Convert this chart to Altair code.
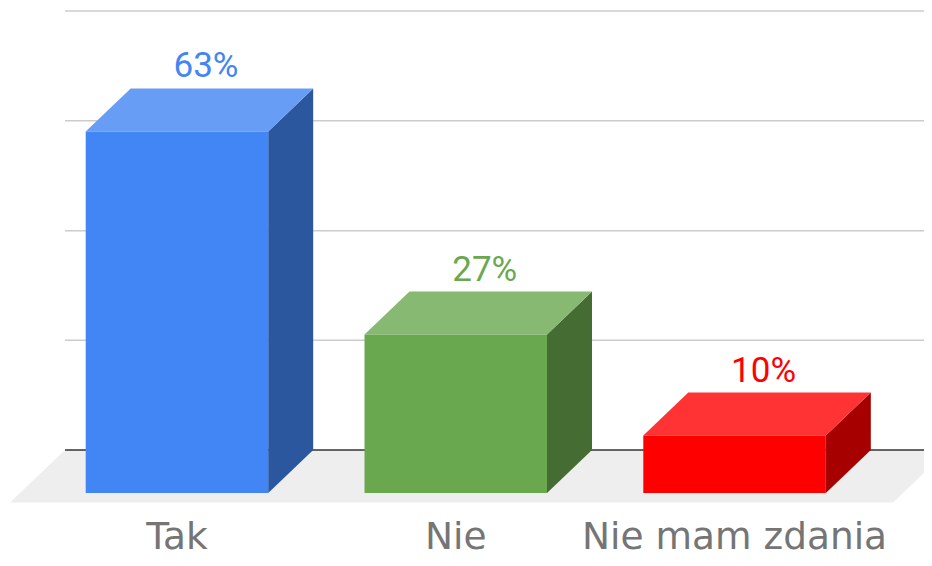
import altair as alt
import pandas as pd

# ---------------- data ----------------
categories = ["Tak", "Nie", "Nie mam zdania"]
values = [63, 27.6, 10]              # percent
value_labels = ["63%", "27%", "10%"]
grid_levels = [0, 19.1, 38.2, 57.35, 76.5]   # back-wall gridlines (percent units)

# ---------------- style ----------------
front_colors = ["#4285F4", "#6AA84F", "#FF0000"]
top_colors = ["#689DF6", "#88B972", "#FF3333"]
side_colors = ["#2B579F", "#456D33", "#A60000"]
label_gray = "#757575"

# geometry (x in category-slot units, y in percent units)
BAR_W = 0.6546       # front face width
DEPTH_X = 0.1614     # oblique depth offset (x)
DEPTH_Y = 7.49       # oblique depth offset (y)
FLOOR_LEFT, FLOOR_RIGHT, FLOOR_FRONT = -0.5988, 2.5683, -1.655
FLOOR_DX = 0.1973
GRID_LEFT = FLOOR_LEFT + FLOOR_DX
X_DOM = [-0.606, 2.6795]
Y_DOM = [-11.324, 84.495]

xs = alt.Scale(domain=X_DOM, nice=False, zero=False)
ys = alt.Scale(domain=Y_DOM, nice=False, zero=False)

# ---------------- tables ----------------
front = pd.DataFrame({
    "cat": categories,
    "x": [i - BAR_W / 2 for i in range(3)],
    "x2": [i + BAR_W / 2 for i in range(3)],
    "y": values,
    "y2": [0] * 3,
    "fill": front_colors,
})

side_rows, top_rows = [], []
for i, (c, v) in enumerate(zip(categories, values)):
    side_rows.append({"cat": c, "x": i + BAR_W / 2, "y": v, "y2": 0, "fill": side_colors[i]})
    side_rows.append({"cat": c, "x": i + BAR_W / 2 + DEPTH_X, "y": v + DEPTH_Y, "y2": DEPTH_Y, "fill": side_colors[i]})
    top_rows.append({"cat": c, "y": v, "x": i - BAR_W / 2, "x2": i + BAR_W / 2, "fill": top_colors[i]})
    top_rows.append({"cat": c, "y": v + DEPTH_Y, "x": i - BAR_W / 2 + DEPTH_X,
                     "x2": i + BAR_W / 2 + DEPTH_X, "fill": top_colors[i]})
side = pd.DataFrame(side_rows)
top = pd.DataFrame(top_rows)

floor = pd.DataFrame({
    "y": [FLOOR_FRONT, DEPTH_Y],
    "x": [FLOOR_LEFT, FLOOR_LEFT + FLOOR_DX],
    "x2": [FLOOR_RIGHT, FLOOR_RIGHT + FLOOR_DX],
})

grid = pd.DataFrame({
    "y": [g + DEPTH_Y for g in grid_levels],
    "x": [GRID_LEFT] * len(grid_levels),
    "x2": [X_DOM[1] + 0.1] * len(grid_levels),
    "base": [g == 0 for g in grid_levels],
})

vlabels = pd.DataFrame({
    "x": [i + 0.104 for i in range(3)],
    "y": [v + DEPTH_Y for v in values],
    "text": value_labels,
    "fill": front_colors,
})

clabels = pd.DataFrame({
    "x": list(range(3)),
    "y": [Y_DOM[0]] * 3,
    "text": categories,
})

# ---------------- layers ----------------
floor_l = alt.Chart(floor).mark_area(orient="horizontal", color="#EEEEEE", clip=True).encode(
    y=alt.Y("y:Q", scale=ys, axis=None),
    x=alt.X("x:Q", scale=xs, axis=None),
    x2="x2:Q",
)

grid_l = alt.Chart(grid).transform_filter("!datum.base").mark_rule(
    color="#CCCCCC", strokeWidth=1.5, clip=True
).encode(y=alt.Y("y:Q", scale=ys, axis=None), x=alt.X("x:Q", scale=xs, axis=None), x2="x2:Q")

base_l = alt.Chart(grid).transform_filter("datum.base").mark_rule(
    color="#333333", strokeWidth=1.5, clip=True
).encode(y=alt.Y("y:Q", scale=ys, axis=None), x=alt.X("x:Q", scale=xs, axis=None), x2="x2:Q")

side_l = alt.Chart(side).mark_area().encode(
    x=alt.X("x:Q", scale=xs, axis=None),
    y=alt.Y("y:Q", scale=ys, axis=None),
    y2="y2:Q",
    color=alt.Color("fill:N", scale=None),
    detail="cat:N",
)

top_l = alt.Chart(top).mark_area(orient="horizontal").encode(
    y=alt.Y("y:Q", scale=ys, axis=None),
    x=alt.X("x:Q", scale=xs, axis=None),
    x2="x2:Q",
    color=alt.Color("fill:N", scale=None),
    detail="cat:N",
)

front_l = alt.Chart(front).mark_rect().encode(
    x=alt.X("x:Q", scale=xs, axis=None),
    x2="x2:Q",
    y=alt.Y("y:Q", scale=ys, axis=None),
    y2="y2:Q",
    color=alt.Color("fill:N", scale=None),
)

vlab_l = alt.Chart(vlabels).mark_text(
    font="Roboto", fontSize=35, baseline="alphabetic", align="center", dy=-11
).encode(
    x=alt.X("x:Q", scale=xs, axis=None),
    y=alt.Y("y:Q", scale=ys, axis=None),
    text="text:N",
    color=alt.Color("fill:N", scale=None),
)

clab_l = alt.Chart(clabels).mark_text(
    font="DejaVu Sans", fontSize=37.5, baseline="alphabetic", align="center", dy=-9, color=label_gray
).encode(
    x=alt.X("x:Q", scale=xs, axis=None),
    y=alt.Y("y:Q", scale=ys, axis=None),
    text="text:N",
)

chart = alt.layer(
    floor_l, grid_l, base_l, side_l, top_l, front_l, vlab_l, clab_l
).properties(
    width=916, height=550, padding=0,
    autosize=alt.AutoSizeParams(type="none"),
    background="white",
).configure_view(stroke=None)

chart.save("out.html", embed_options={"renderer": "svg", "actions": False})
